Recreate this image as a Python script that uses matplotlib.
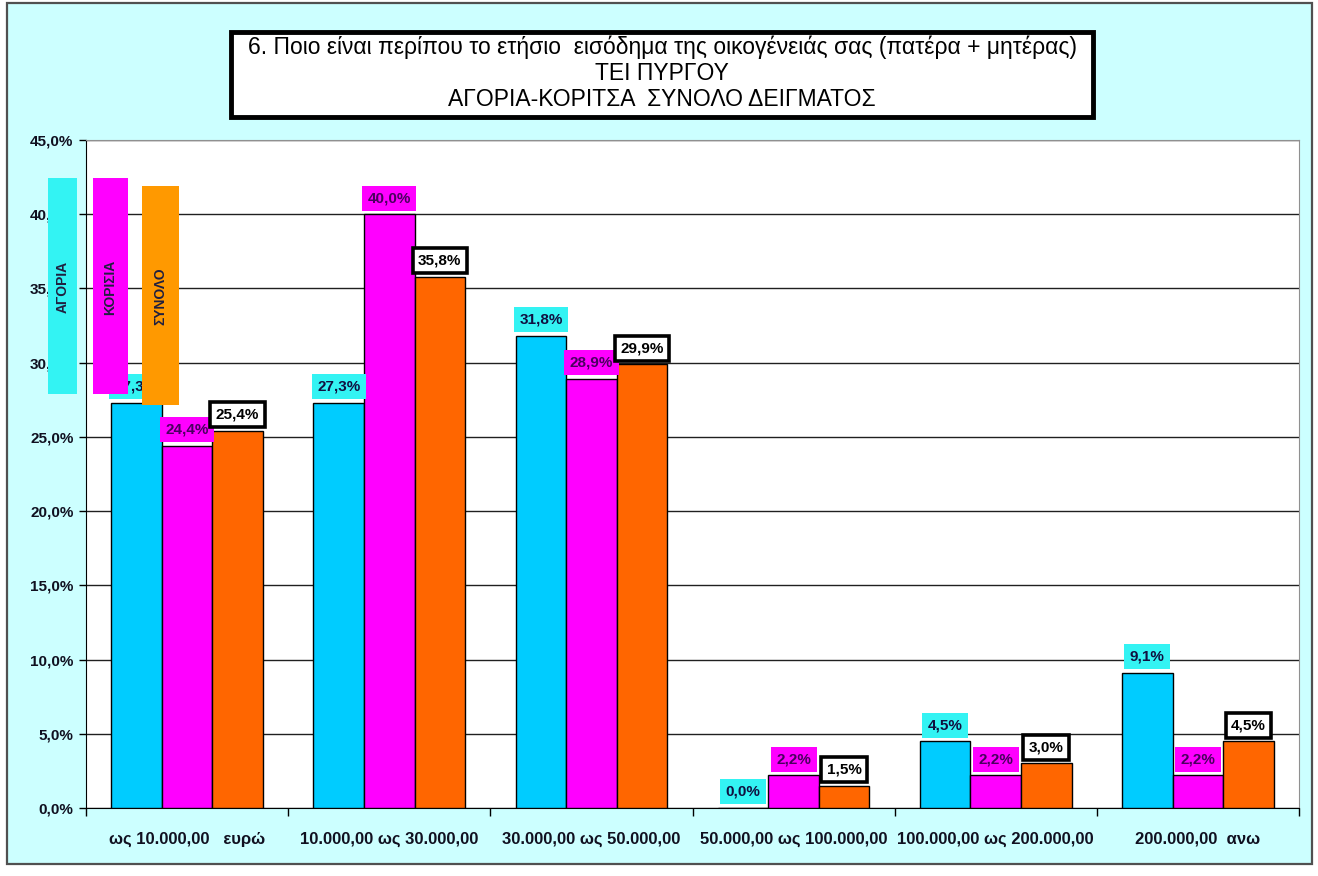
import matplotlib
matplotlib.use("Agg")
import matplotlib.pyplot as plt
from matplotlib.patches import Rectangle
from matplotlib.ticker import FixedLocator, FuncFormatter
import numpy as np

# ---------------- data ----------------
categories = ["ως 10.000,00   ευρώ", "10.000,00 ως 30.000,00", "30.000,00 ως 50.000,00",
              "50.000,00 ως 100.000,00", "100.000,00 ως 200.000,00", "200.000,00  ανω"]
series_names = ["ΑΓΟΡΙΑ", "ΚΟΡΙΣΙΑ", "ΣΥΝΟΛΟ"]
agoria = [27.3, 27.3, 31.8, 0.0, 4.5, 9.1]
korisia = [24.4, 40.0, 28.9, 2.2, 2.2, 2.2]
synolo = [25.4, 35.8, 29.9, 1.5, 3.0, 4.5]
y_ticks = [0, 5, 10, 15, 20, 25, 30, 35, 40, 45]
title_lines = ["6. Ποιο είναι περίπου το ετήσιο  εισόδημα της οικογένειάς σας (πατέρα + μητέρας)",
               "ΤΕΙ ΠΥΡΓΟΥ",
               "ΑΓΟΡΙΑ-ΚΟΡΙΤΣΑ  ΣΥΝΟΛΟ ΔΕΙΓΜΑΤΟΣ"]

# ---------------- style ----------------
W, H = 1318, 876
FONT = ["Liberation Sans", "DejaVu Sans"]
plt.rcParams["font.family"] = FONT

bar_colors = ["#00CCFF", "#FF00FF", "#FF6600"]
legend_colors = ["#33F3F3", "#FF00FF", "#FF9900"]
label_bg = ["#33F3F3", "#FF00FF", "white"]
label_ec = ["none", "none", "black"]
label_tc = ["#101040", "#4a0060", "black"]

def fx(x):
    return x / W

def fy(y):
    return 1 - y / H

fig = plt.figure(figsize=(W / 100, H / 100), dpi=100, facecolor="white")

# outer chart area background with border
fig.add_artist(Rectangle((fx(7), fy(864)), fx(1312) - fx(7), fy(3) - fy(864),
                         transform=fig.transFigure, facecolor="#CCFFFF",
                         edgecolor="#505050", linewidth=1.6, zorder=-10))

ax = fig.add_axes([fx(86), fy(808), fx(1299) - fx(86), fy(140) - fy(808)])
ax.set_facecolor("white")

x = np.arange(len(categories))
bw = 0.25
all_series = [agoria, korisia, synolo]
for i, vals in enumerate(all_series):
    xs = x + (i - 1) * bw
    ax.bar(xs, vals, width=bw, color=bar_colors[i], edgecolor="black",
           linewidth=1.0, zorder=3)
    for xi, v in zip(xs, vals):
        lbl = f"{v:.1f}%".replace(".", ",")
        ax.annotate(lbl, (xi, v), xytext=(0, 6.5), textcoords="offset points",
                    ha="center", va="bottom", fontsize=11, fontweight="bold",
                    color=label_tc[i], zorder=6,
                    bbox=dict(boxstyle="square,pad=0.36", facecolor=label_bg[i],
                              edgecolor=label_ec[i],
                              linewidth=2.6 if i == 2 else 0))

ax.set_xlim(-0.5, len(categories) - 0.5)
ax.set_ylim(0, 45)

# gridlines
ax.set_yticks(y_ticks)
ax.yaxis.set_major_formatter(FuncFormatter(lambda v, p: f"{v:.1f}%".replace(".", ",")))
ax.grid(axis="y", color="#202020", linewidth=1.0, zorder=0)
ax.set_axisbelow(True)

# x ticks: marks at group boundaries, labels at centers
ax.xaxis.set_major_locator(FixedLocator(np.arange(len(categories) + 1) - 0.5))
ax.xaxis.set_major_formatter(FuncFormatter(lambda v, p: ""))
ax.xaxis.set_minor_locator(FixedLocator(x))
ax.set_xticklabels(categories, minor=True)
ax.tick_params(axis="x", which="major", length=6, width=1, color="black", direction="out")
ax.tick_params(axis="x", which="minor", length=0, pad=17)
ax.tick_params(axis="y", length=5, width=1, direction="out", pad=4)
for lab in ax.get_xticklabels(minor=True):
    lab.set_fontsize(12)
    lab.set_fontweight("bold")
    lab.set_color("#101020")
for lab in ax.get_yticklabels():
    lab.set_fontsize(11)
    lab.set_fontweight("bold")
    lab.set_color("#101020")

ax.spines["left"].set_color("black")
ax.spines["bottom"].set_color("black")
ax.spines["top"].set_color("#909090")
ax.spines["right"].set_color("#909090")

# title box
fig.add_artist(Rectangle((fx(231), fy(117)), fx(1093) - fx(231), fy(32) - fy(117),
                         transform=fig.transFigure, facecolor="white",
                         edgecolor="black", linewidth=3.5, zorder=4))
title_y = [47, 73, 99]
for t, yy in zip(title_lines, title_y):
    fig.text(fx(662), fy(yy), t, ha="center", va="center", fontsize=16.5,
             color="black", zorder=5)

# legend boxes (drawn over the tick labels, like the reference)
leg_boxes = [(48, 178, 77, 394), (93, 178, 128, 394), (142, 186, 179, 405)]
for (x0, y0, x1, y1), c, name in zip(leg_boxes, legend_colors, series_names):
    fig.add_artist(Rectangle((fx(x0), fy(y1)), fx(x1) - fx(x0), fy(y0) - fy(y1),
                             transform=fig.transFigure, facecolor=c,
                             edgecolor="none", zorder=8))
    fig.text(fx((x0 + x1) / 2), fy((y0 + y1) / 2 + 1), name, rotation=90,
             ha="center", va="center", fontsize=10, fontweight="bold",
             color="#202040", zorder=9)

fig.savefig("out.png", dpi=100, facecolor=fig.get_facecolor())
